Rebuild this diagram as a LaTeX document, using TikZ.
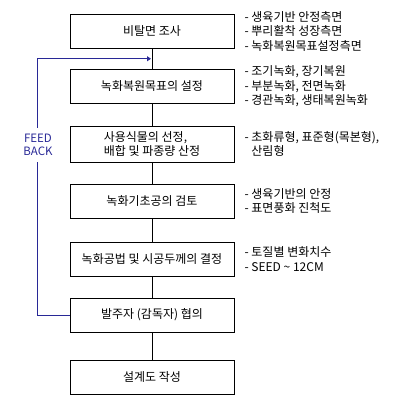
\documentclass[tikz,border=0pt]{standalone}
\usepackage{fontspec}
\setmainfont{Noto Sans CJK KR}
\usetikzlibrary{arrows.meta,positioning,calc}
\definecolor{fbblue}{RGB}{40,40,150}
\tikzset{
  >={Triangle[length=4pt,width=5pt]},
  stage/.style={draw,thick,minimum width=164pt,minimum height=34pt,
    align=center,font=\fontsize{12}{14.5}\selectfont,inner sep=0pt},
  note/.style={align=left,anchor=west,inner sep=0pt,
    font=\fontsize{12}{14.5}\selectfont},
  link/.style={draw,thick},
  fbline/.style={draw=fbblue,thick},
}

\begin{document}
\begin{tikzpicture}[x=1pt,y=-1pt]
    \useasboundingbox (0,0) rectangle (400,403);
    \node[stage] (b1) at (152,31) {비탈면 조사};
    \node[stage] (b2) at (152,86.5) {녹화복원목표의 설정};
    \node[stage,minimum height=36pt,align=left] (b3) at (152,144) {사용식물의 선정,\\배합 및 파종량 산정};
    \node[stage] (b4) at (152,201) {녹화기초공의 검토};
    \node[stage] (b5) at (152,259) {녹화공법 및 시공두께의 결정};
    \node[stage] (b6) at (152,315) {발주자 (감독자) 협의};
    \node[stage] (b7) at (152,377) {설계도 작성};
    \foreach \a/\b in {b1/b2,b2/b3,b3/b4,b4/b5,b5/b6,b6/b7}
      \draw[link] (\a.south) -- (\b.north);
    % notes beside the stages
    \node[note,right=10pt of b1] (n1) {- 생육기반 안정측면\\- 뿌리활착 성장측면\\- 녹화복원목표설정측면};
    \node[note,right=10pt of b2] (n2) {- 조기녹화, 장기복원\\- 부분녹화, 전면녹화\\- 경관녹화, 생태복원녹화};
    \node[note,right=10pt of b3] (n3) {- 초화류형, 표준형(목본형),\\\phantom{- }산림형};
    \node[note,right=10pt of b4] (n4) {- 생육기반의 안정\\- 표면풍화 진척도};
    \node[note,right=10pt of b5] (n5) {- 토질별 변화치수\\- SEED \textasciitilde{} 12CM};
    % feed back loop
    \coordinate (tip) at ($(b1.south)!0.5!(b2.north)$);
    \node[text=fbblue,align=center,font=\fontsize{11.5}{13}\selectfont,
      minimum height=34pt,inner sep=0pt] (fb) at (38,145) {FEED\\BACK};
    \draw[fbline] (b6.west) -| ([xshift=-1pt]fb.south);
    \draw[fbline,->] ([xshift=-1pt]fb.north) |- ([xshift=-1pt]tip);
  \end{tikzpicture}
\end{document}
